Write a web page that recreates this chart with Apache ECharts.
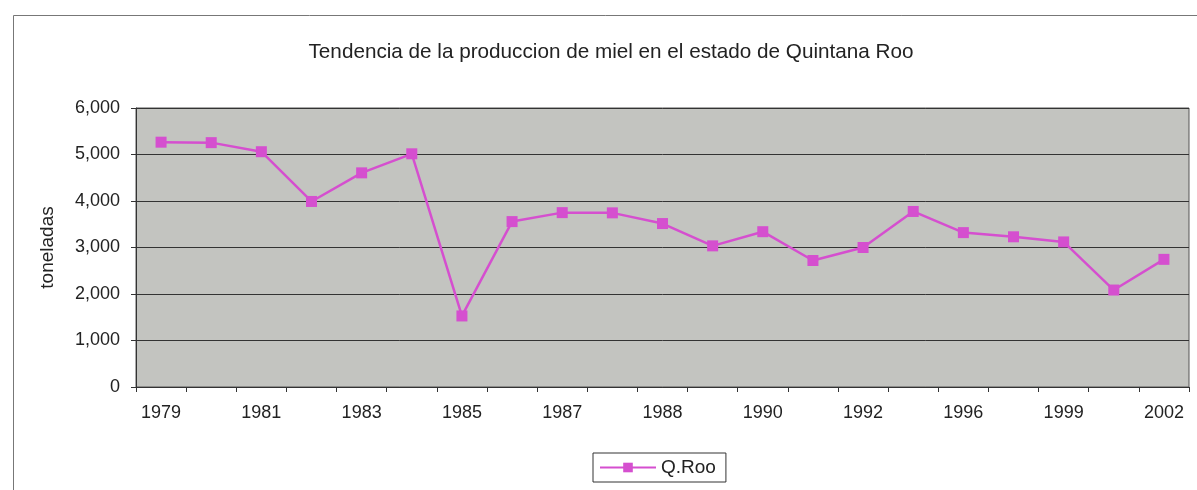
<!DOCTYPE html>
<html><head><meta charset="utf-8">
<script src="https://cdn.jsdelivr.net/npm/echarts@6/dist/echarts.min.js"></script>
<style>html,body{margin:0;padding:0;background:#fff}#c{width:1197px;height:490px}</style>
</head><body><div id="c"></div>
<script>
var categories = ['1979','1980','1981','1982','1983','1984','1985','1986','1987','1987 ','1988','1989','1990','1991','1992','1995','1996','1998','1999','2001','2002'];
var valuesQRoo = [5265,5255,5060,3990,4605,5015,1528,3557,3750,3745,3515,3035,3340,2720,3000,3775,3320,3230,3120,2085,2745];
var yTicks = [0,1000,2000,3000,4000,5000,6000];

var chart = echarts.init(document.getElementById('c'), null, {renderer:'canvas'});
var font = 'Liberation Sans, Arial, sans-serif';
chart.setOption({
  backgroundColor:'#fff',
  animation:false,
  title:{text:'Tendencia de la produccion de miel en el estado de Quintana Roo',left:606,top:37,textAlign:'center',
    textStyle:{fontFamily:font,fontSize:20.7,fontWeight:'normal',color:'#222'}},
  graphic:[{type:'rect',shape:{x:13.5,y:15.5,width:1200,height:480},style:{fill:'none',stroke:'#777',lineWidth:1}}],
  legend:{data:['Q.Roo'],left:593,top:453,orient:'horizontal',borderColor:'#333',borderWidth:1,padding:[5,10,5,6],
    itemWidth:56,itemHeight:12,itemGap:4,textStyle:{fontFamily:font,fontSize:19,color:'#222'}},
  grid:{left:136,right:8,top:108,bottom:103,show:true,backgroundColor:'#c3c4c0',borderColor:'#555',borderWidth:1},
  xAxis:{type:'category',data:categories,boundaryGap:true,
    axisLine:{lineStyle:{color:'#333',width:1}},
    axisTick:{show:true,alignWithLabel:false,interval:0,length:5,lineStyle:{color:'#333'}},
    axisLabel:{interval:1,fontFamily:font,fontSize:18,color:'#222',margin:17,
      formatter:function(v){return v.trim();}}},
  yAxis:{type:'value',min:yTicks[0],max:yTicks[yTicks.length-1],interval:1000,name:'toneladas',nameLocation:'middle',nameGap:79,
    nameTextStyle:{fontFamily:font,fontSize:19,color:'#222'},
    axisLine:{show:true,lineStyle:{color:'#333'}},
    axisTick:{show:true,length:5,lineStyle:{color:'#333'}},
    splitLine:{lineStyle:{color:'#333',width:1}},
    axisLabel:{fontFamily:font,fontSize:18,color:'#222',margin:16,
      formatter:function(v){return v.toLocaleString('en-US');}}},
  series:[{name:'Q.Roo',type:'line',data:valuesQRoo,symbol:'rect',symbolSize:11,
    itemStyle:{color:'#d54fcf'},lineStyle:{color:'#d54fcf',width:2.5}}]
});
</script></body></html>
